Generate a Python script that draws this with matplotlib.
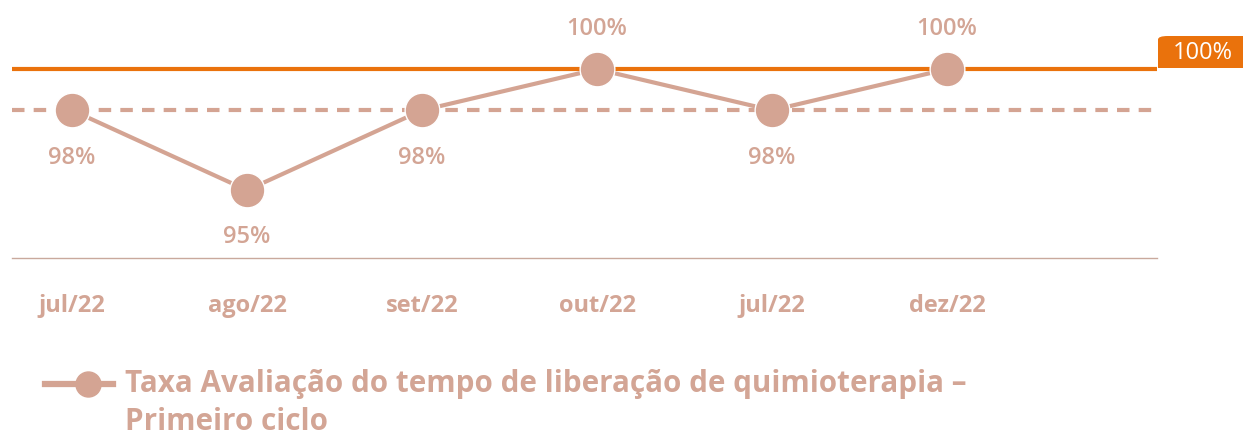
import matplotlib
matplotlib.use('Agg')
import matplotlib.pyplot as plt
from matplotlib.patches import FancyBboxPatch, Rectangle
from matplotlib.lines import Line2D

plt.rcParams['font.family'] = ['Open Sans', 'DejaVu Sans']

# ---------------------------------------------------------------- data
months = ['jul/22', 'ago/22', 'set/22', 'out/22', 'jul/22', 'dez/22']
taxa = [98.3, 95.0, 98.3, 100.0, 98.3, 100.0]
taxa_lbl = ['98%', '95%', '98%', '100%', '98%', '100%']
meta = 100.0
media = 98.3
legend_txt = u'Taxa Avaliação do tempo de liberação de quimioterapia –\nPrimeiro ciclo'

c_line = '#d4a493'
c_text = '#d3a595'
c_meta = '#ea720c'
c_base = '#c9a99d'

W, H = 1243, 438
fig = plt.figure(figsize=(W / 100, H / 100), dpi=100)

# axes in pixel coordinates
left, right, bottom, top = 12, 1157, 258, 20
ax = fig.add_axes([left / W, 1 - bottom / H, (right - left) / W, (bottom - top) / H])

x = list(range(len(months)))
ax.set_xlim(-0.343, 6.2)
ax.set_ylim(92.2, 102.03)

#------------------
ax.axhline(meta, color=c_meta, lw=3, zorder=1)
ax.axhline(media, color=c_line, lw=3, dashes=[3, 2.2], zorder=1)

ax.plot(x, taxa, '-o', color=c_line, lw=3, ms=25,
        mfc=c_line, mec='white', mew=1, zorder=3)

for xi, v, s in zip(x, taxa, taxa_lbl):
    dy = 29 if v >= 99.5 else -34
    ax.annotate(s, (xi, v), xytext=(0, dy), textcoords='offset points',
                ha='center', va='center', fontsize=17, color=c_text,
                fontweight='semibold')

#------------------
for sp in ['top', 'left', 'right']:
    ax.spines[sp].set_visible(False)
ax.spines['bottom'].set_color(c_base)
ax.spines['bottom'].set_linewidth(1)
ax.set_yticks([])
ax.set_xticks(x)
ax.set_xticklabels(months, fontsize=17, fontweight='bold', color=c_text)
ax.tick_params(axis='x', length=0, pad=26)

# meta tag on the right
tag = FancyBboxPatch((1158 / W, 1 - 68 / H), (W - 1158) / W + 0.02, 32 / H,
                     boxstyle='round,pad=0,rounding_size=0.008',
                     transform=fig.transFigure, fc=c_meta, ec='none',
                     clip_on=False)
fig.patches.append(tag)
fig.patches.append(Rectangle((1158 / W, 1 - 68 / H), 0.01, 12 / H,
                             transform=fig.transFigure, fc=c_meta, ec='none'))
fig.text(1203 / W, 1 - 53 / H, '100%', ha='center', va='center',
         fontsize=17, color='white')

#------------------
# legend drawn by hand
fig.add_artist(Line2D([45 / W, 113 / W], [1 - 384 / H, 1 - 384 / H],
                      transform=fig.transFigure, color=c_line, lw=4.5))
fig.add_artist(Line2D([88 / W], [1 - 384 / H], transform=fig.transFigure,
                      marker='o', ms=18, mfc=c_line, mec=c_line, color=c_line))
fig.text(125 / W, 1 - 403 / H, legend_txt, ha='left', va='center',
         fontsize=21.3, fontweight='bold', color=c_text, linespacing=1.38)

plt.savefig('out.png', dpi=100)
